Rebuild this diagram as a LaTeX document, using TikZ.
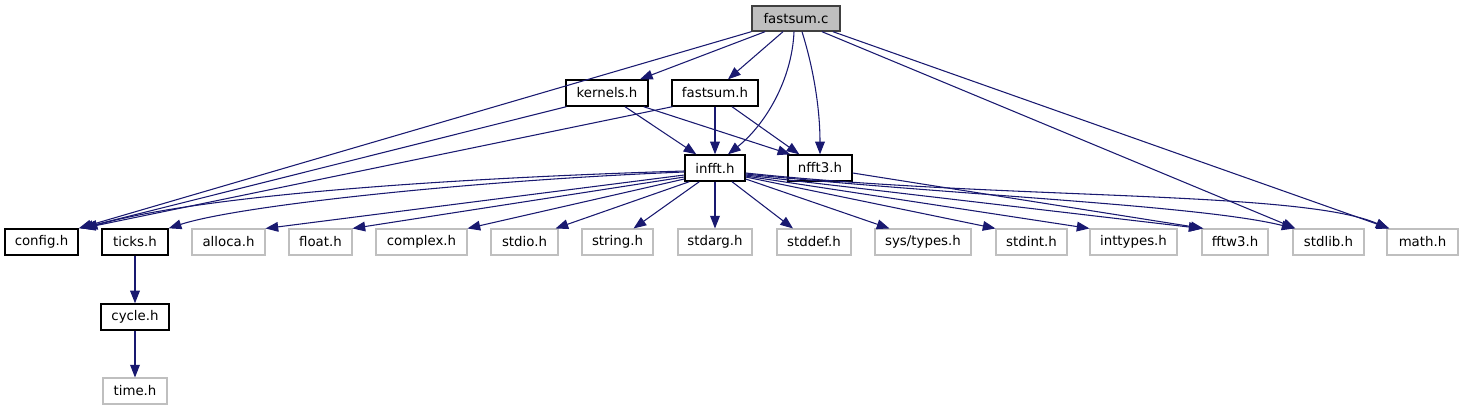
\documentclass[tikz,border=0pt]{standalone}
\usepackage{fontspec}
\setmainfont{DejaVu Sans}
\usetikzlibrary{arrows.meta,calc}
\definecolor{edgec}{HTML}{191970}
\definecolor{grayb}{HTML}{BFBFBF}
\definecolor{darkb}{HTML}{404040}
\begin{document}
\begin{tikzpicture}[x=0.75pt,y=-0.75pt,
  base/.style={rectangle, inner sep=0pt, minimum height=19.5pt, font=\fontsize{10pt}{12pt}\selectfont, anchor=center},
  docbox/.style={base, draw=black, line width=1.05pt, fill=white},
  sysbox/.style={base, draw=grayb, line width=0.8pt, fill=white},
  rootbox/.style={base, draw=darkb, line width=1.05pt, fill=grayb, minimum height=18.75pt},
  wd/.style={minimum width=#1*0.75pt},
  dep/.style={draw=edgec, line width=0.8pt, -{Triangle[length=9.5pt,width=7.3pt]}}
]
\useasboundingbox (0,0) rectangle (1461,411);
% nodes
\node[rootbox, wd=88] (fc) at (796,18.5) {fastsum.c};
\node[docbox, wd=82] (kern) at (607,93) {kernels.h};
\node[docbox, wd=86] (fsh) at (715,93) {fastsum.h};
\node[docbox, wd=60] (infft) at (715,168) {infft.h};
\node[docbox, wd=64] (nfft) at (820,168) {nfft3.h};
\node[docbox, wd=73] (config) at (41.5,242) {config.h};
\node[docbox, wd=66] (ticks) at (135,242) {ticks.h};
\node[sysbox, wd=73] (alloca) at (228.5,242) {alloca.h};
\node[sysbox, wd=63] (float) at (320.5,242) {float.h};
\node[sysbox, wd=91] (complex) at (421.5,242) {complex.h};
\node[sysbox, wd=67] (stdio) at (524.5,242) {stdio.h};
\node[sysbox, wd=71] (string) at (617.5,242) {string.h};
\node[sysbox, wd=74] (stdarg) at (715,242) {stdarg.h};
\node[sysbox, wd=74] (stddef) at (814,242) {stddef.h};
\node[sysbox, wd=96] (systypes) at (923,242) {sys/types.h};
\node[sysbox, wd=71] (stdint) at (1031.5,242) {stdint.h};
\node[sysbox, wd=87] (inttypes) at (1133.5,242) {inttypes.h};
\node[sysbox, wd=66] (fftw) at (1235,242) {fftw3.h};
\node[sysbox, wd=71] (stdlib) at (1328.5,242) {stdlib.h};
\node[sysbox, wd=71] (math) at (1422.5,242) {math.h};
\node[docbox, wd=68] (cycle) at (135,317) {cycle.h};
\node[sysbox, wd=64] (time) at (135,391) {time.h};
% edges from fastsum.c
\draw[dep] (fc.south west) -- (config.north east);
\draw[dep] ($(fc.south)+(-31,0)$) -- ($(kern.north)+(33,0)$);
\draw[dep] ($(fc.south)+(-13,0)$) -- ($(fsh.north)+(13,0)$);
\draw[dep] ($(fc.south)+(-2,0)$) .. controls (792,80) and (765,125) .. ($(infft.north)+(13,0)$);
\draw[dep] ($(fc.south)+(6,0)$) .. controls (814,70) and (820,110) .. (nfft.north);
\draw[dep] ($(fc.south)+(26,0)$) -- ($(stdlib.north west)+(3,0)$);
\draw[dep] ($(fc.south)+(37,0)$) -- ($(math.north west)+(3,0)$);
% edges from kernels.h
\draw[dep] ($(kern.south west)+(1,0)$) -- ($(config.north east)+(2,0)$);
\draw[dep] ($(kern.south)+(18,0)$) -- ($(infft.north west)+(12,0)$);
\draw[dep] ($(kern.south east)+(-5,0)$) -- ($(nfft.north west)+(3,0)$);
% edges from fastsum.h
\draw[dep] ($(fsh.south west)+(1,0)$) -- ($(config.north east)+(4,0)$);
\draw[dep] (fsh.south) -- (infft.north);
\draw[dep] ($(fsh.south)+(17,0)$) -- ($(nfft.north west)+(12,0)$);
% edges from infft.h
\draw[dep] ($(infft.west)+(0,3)$) .. controls (520,176) and (220,190) .. ($(config.north east)+(6,0)$);
\draw[dep] ($(infft.west)+(0,4)$) .. controls (480,180) and (240,205) .. (ticks.north east);
\draw[dep] ($(infft.west)+(0,7)$) -- (alloca.north east);
\draw[dep] ($(infft.west)+(0,9)$) -- (float.north east);
\draw[dep] ($(infft.west)+(0,11)$) -- (complex.north east);
\draw[dep] ($(infft.south west)+(5,0)$) -- ($(stdio.north east)+(-3,0)$);
\draw[dep] ($(infft.south west)+(15,0)$) -- ($(string.north east)+(-20,0)$);
\draw[dep] (infft.south) -- (stdarg.north);
\draw[dep] ($(infft.south)+(17,0)$) -- ($(stddef.north)+(-21,0)$);
\draw[dep] ($(infft.east)+(0,11)$) -- ($(systypes.north west)+(15,0)$);
\draw[dep] ($(infft.east)+(0,9)$) -- (stdint.north west);
\draw[dep] ($(infft.east)+(0,8)$) -- (inttypes.north west);
\draw[dep] ($(infft.east)+(0,7)$) -- (fftw.north west);
\draw[dep] ($(infft.east)+(0,6)$) .. controls (950,195) and (1200,205) .. ($(stdlib.north west)+(2,0)$);
\draw[dep] ($(infft.east)+(0,5)$) .. controls (1000,200) and (1300,190) .. ($(math.north west)+(2,0)$);
% nfft3.h
\draw[dep] ($(nfft.east)+(0,5)$) -- ($(fftw.north west)+(2,0)$);
% ticks -> cycle -> time
\draw[dep] (ticks.south) -- (cycle.north);
\draw[dep] (cycle.south) -- (time.north);
\end{tikzpicture}
\end{document}
